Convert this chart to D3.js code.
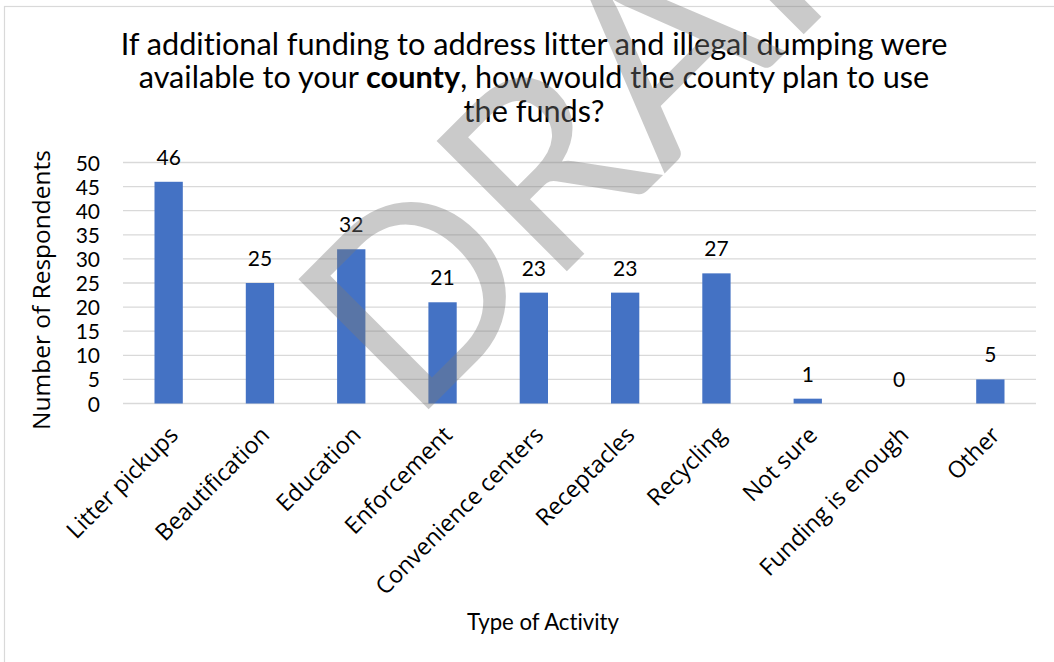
<!DOCTYPE html>
<html><head><meta charset="utf-8">
<script src="https://cdn.jsdelivr.net/npm/d3@7"></script>
<style>body{margin:0;background:#fff;} svg{display:block;} text{font-variant-ligatures:none;font-feature-settings:"liga" 0;}</style>
</head><body>
<svg id="c" width="1054" height="662"></svg>
<script>
const categories = ["Litter pickups","Beautification","Education","Enforcement","Convenience centers","Receptacles","Recycling","Not sure","Funding is enough","Other"];
const respondents = [46,25,32,21,23,23,27,1,0,5];
const yTicks = [0,5,10,15,20,25,30,35,40,45,50];
const titleLine1 = [["If additional funding to address litter and illegal dumping were", false]];
const titleLine2 = [["available to your ", false], ["county", true], [", how would the county plan to use", false]];
const titleLine3 = [["the funds?", false]];
const yTitle = "Number of Respondents";
const xTitle = "Type of Activity";
const watermark = "DRAFT";

const svg = d3.select("#c");
const FONT = "Lato, 'Open Sans', sans-serif";
const FONT2 = "'Open Sans', 'Noto Sans', sans-serif";

// chart frame
svg.append("rect").attr("x", 4.5).attr("y", 6.5).attr("width", 1100).attr("height", 700)
  .attr("fill", "#fff").attr("stroke", "#d9d9d9").attr("stroke-width", 1.2);

const plot = {left: 123, right: 1036, top: 162.5, bottom: 403.5};
const x = d3.scaleBand().domain(categories).range([plot.left, plot.right]).paddingInner(0).paddingOuter(0);
const y = d3.scaleLinear().domain([0, 50]).range([plot.bottom, plot.top]);
const barW = x.bandwidth() * 0.31;

// gridlines
svg.append("g").selectAll("line").data(yTicks).join("line")
  .attr("x1", plot.left).attr("x2", plot.right)
  .attr("y1", d => y(d)).attr("y2", d => y(d))
  .attr("stroke", "#d9d9d9").attr("stroke-width", 1.3);

// y axis tick labels
const yAxis = d3.axisLeft(y).tickValues(yTicks).tickSize(0).tickPadding(0);
const yg = svg.append("g").attr("transform", `translate(100,0)`).call(yAxis);
yg.select(".domain").remove();
yg.selectAll("text").attr("font-family", FONT).attr("font-size", 21).attr("fill", "#000").attr("dy", "0.36em");

// bars
svg.append("g").selectAll("rect").data(respondents).join("rect")
  .attr("x", (d, i) => x(categories[i]) + (x.bandwidth() - barW) / 2)
  .attr("width", barW)
  .attr("y", d => y(d))
  .attr("height", d => y(0) - y(d))
  .attr("fill", "#4472c4");

// data labels
svg.append("g").selectAll("text").data(respondents).join("text")
  .attr("x", (d, i) => x(categories[i]) + x.bandwidth() / 2)
  .attr("y", d => y(d) - 17)
  .attr("text-anchor", "middle")
  .attr("font-family", FONT).attr("font-size", 21).attr("fill", "#000")
  .text(d => d);

// x axis category labels
const xAxis = d3.axisBottom(x).tickSize(0).tickPadding(0);
const xg = svg.append("g").attr("transform", `translate(0,${plot.bottom})`).call(xAxis);
xg.select(".domain").remove();
const xl = xg.selectAll("text")
  .attr("font-family", FONT2).attr("font-size", 20).attr("fill", "#000")
  .attr("text-anchor", "end").attr("dy", null).attr("y", null);
let refLen = 20;
xl.each(function(d) { if (d === "Convenience centers") refLen = this.getComputedTextLength(); });
const catSize = 20 * 226 / refLen;
xl.attr("font-size", catSize).attr("transform", "translate(11,33) rotate(-45)");

// title
const title = svg.append("g");
function addLine(segs, yy) {
  const t = title.append("text").attr("x", 534).attr("y", yy).attr("text-anchor", "middle")
    .attr("font-family", FONT).attr("fill", "#000");
  segs.forEach(s => t.append("tspan").attr("font-weight", s[1] ? "bold" : "normal").text(s[0]));
  return t;
}
const l1 = addLine(titleLine1, 54.5);
const l2 = addLine(titleLine2, 88);
const l3 = addLine(titleLine3, 121.5);
l1.attr("font-size", 28);
const w1 = l1.node().getComputedTextLength();
const tSize = 28 * 827 / w1;
[l1, l2, l3].forEach(l => l.attr("font-size", tSize));

// axis titles
const yt = svg.append("text").attr("text-anchor", "middle").attr("font-family", FONT2).attr("font-size", 24)
  .attr("fill", "#000").text(yTitle);
const ytw = yt.node().getComputedTextLength();
yt.attr("font-size", 24 * 280 / ytw).attr("transform", `translate(50,290) rotate(-90)`);

const xt = svg.append("text").attr("text-anchor", "middle").attr("font-family", FONT).attr("font-size", 24)
  .attr("fill", "#000").text(xTitle);
const xtw = xt.node().getComputedTextLength();
xt.attr("font-size", 24 * 152 / xtw).attr("x", 543).attr("y", 630);

// watermark
svg.append("text").attr("font-family", FONT).attr("font-weight", 400).attr("font-size", 257)
  .attr("fill", "#7a7a7a").attr("fill-opacity", 0.4)
  .attr("transform", "translate(412,426) rotate(-45)")
  .text(watermark);
</script>
</body></html>
